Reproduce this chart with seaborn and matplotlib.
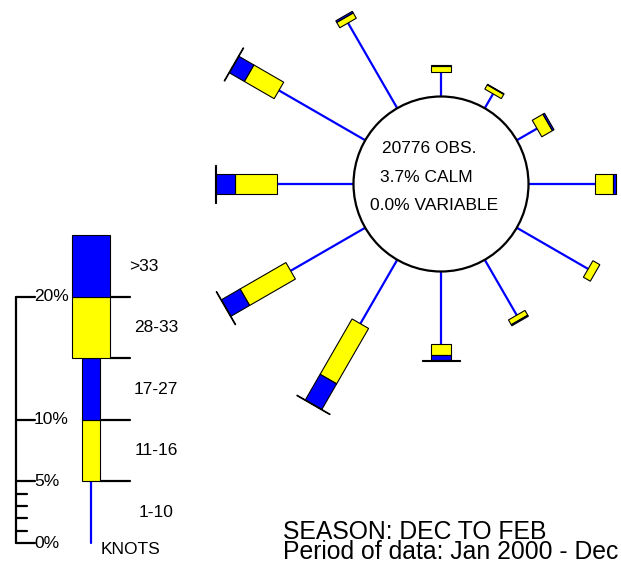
import numpy as np
import pandas as pd
import matplotlib
matplotlib.use("Agg")
import matplotlib.pyplot as plt
from matplotlib.patches import Polygon, Circle, Rectangle
import seaborn as sns

# ---- wind rose data (percent of observations) ----
directions = [0, 30, 60, 90, 120, 150, 180, 210, 240, 270, 300, 330]
pct_1_10 = [2.0, 1.35, 1.9, 5.4, 6.7, 5.2, 5.9, 6.0, 7.0, 6.2, 8.1, 8.0]
pct_11_16 = [0.5, 0.4, 1.0, 1.5, 0.65, 0.45, 0.9, 5.2, 4.3, 3.4, 2.8, 0.5]
pct_17_27 = [0.1, 0.05, 0.15, 0.25, 0.0, 0.1, 0.4, 2.4, 1.75, 1.6, 1.4, 0.15]
pct_28_33 = [0.0, 0.0, 0.0, 0.0, 0.0, 0.0, 0.05, 0.05, 0.05, 0.05, 0.05, 0.0]
pct_gt33 = [0.0] * 12

speed_labels = ["1-10", "11-16", "17-27", "28-33", ">33"]
legend_step = 5.0                      # each legend segment spans 5 %
scale_ticks = [0, 5, 10, 20]
scale_minor = [1, 2, 3, 4]

n_obs = 20776
calm_pct = 3.7
variable_pct = 0.0
season_text = "SEASON: DEC TO FEB"
period_text = "Period of data: Jan 2000 - Dec"

# ---- layout (1 data unit = 1 %) ----
W_PX, H_PX = 621, 565
S = 12.3                      # pixels per percent
CX, CY = 441, 184             # rose centre in pixels
R = 87.5 / S                  # radius of the central circle
NARROW = 1.55
WIDE = 3.1
BLUE = "#0000ff"
YELLOW = "#ffff00"


def px(x):
    return (x - CX) / S


def py(y):
    return (CY - y) / S


sns.set_theme(style="white")
plt.rcParams["font.family"] = ["Liberation Sans", "DejaVu Sans"]
plt.rcParams["text.color"] = "black"

fig = plt.figure(figsize=(W_PX / 100, H_PX / 100), dpi=100)
ax = fig.add_axes([0, 0, 1, 1])
ax.set_xlim(px(0), px(W_PX))
ax.set_ylim(py(H_PX), py(0))
ax.set_axis_off()


def bar(theta_deg, r0, r1, width, color):
    t = np.deg2rad(theta_deg)
    u = np.array([np.sin(t), np.cos(t)])
    p = np.array([np.cos(t), -np.sin(t)])
    pts = [r0 * u + width / 2 * p, r1 * u + width / 2 * p,
           r1 * u - width / 2 * p, r0 * u - width / 2 * p]
    ax.add_patch(Polygon(pts, closed=True, facecolor=color,
                         edgecolor="black", lw=0.8, zorder=3))


# spokes for the 1-10 knot class
rows = []
for d, v in zip(directions, pct_1_10):
    t = np.deg2rad(d)
    for r in (R, R + v):
        rows.append({"dir": d, "x": r * np.sin(t), "y": r * np.cos(t)})
spokes = pd.DataFrame(rows)
sns.lineplot(data=spokes, x="x", y="y", units="dir", estimator=None,
             sort=False, color=BLUE, lw=1.6, ax=ax, legend=False, zorder=2)

# stacked bars for the higher speed classes
for i, d in enumerate(directions):
    r = R + pct_1_10[i]
    segs = [(pct_11_16[i], NARROW, YELLOW), (pct_17_27[i], NARROW, BLUE),
            (pct_28_33[i], WIDE, YELLOW), (pct_gt33[i], WIDE, BLUE)]
    for val, w, col in segs:
        if val > 0:
            bar(d, r, r + val, w, col)
            r += val

ax.add_patch(Circle((0, 0), R, facecolor="white", edgecolor="black",
                    lw=1.6, zorder=4))

info = [f"{n_obs} OBS.", f"{calm_pct:.1f}% CALM", f"{variable_pct:.1f}% VARIABLE"]
info_pos = [(429, 149), (426, 178), (434, 206)]
for txt, (x, y) in zip(info, info_pos):
    ax.text(px(x), py(y), txt, ha="center", va="center", fontsize=12.5,
            color="black", zorder=5)

# ---- legend scale ----
y0 = py(543)
axis_x = px(16.5)
ax.plot([axis_x, axis_x], [y0, y0 + max(scale_ticks)], color="black", lw=1.6)
for t in scale_ticks:
    ax.plot([axis_x, px(35)], [y0 + t, y0 + t], color="black", lw=1.6)
    ax.text(px(34), y0 + t, f"{t}%", ha="left", va="center", fontsize=12.5)
for t in scale_minor:
    ax.plot([axis_x, px(27)], [y0 + t, y0 + t], color="black", lw=1.6)

lx = px(91)
ax.plot([lx, lx], [y0, y0 + legend_step], color=BLUE, lw=1.6)
leg_specs = [(NARROW * 18 / 19, YELLOW), (NARROW * 18 / 19, BLUE),
             (WIDE * 37 / 38, YELLOW), (WIDE * 37 / 38, BLUE)]
for k, (w, col) in enumerate(leg_specs, start=1):
    ax.add_patch(Rectangle((lx - w / 2, y0 + k * legend_step), w, legend_step,
                           facecolor=col, edgecolor="black", lw=0.8, zorder=3))
    # separator line at the bottom of each bar segment
    ax.plot([lx + w / 2, px(130)], [y0 + k * legend_step] * 2,
            color="black", lw=1.6, zorder=2)

label_x = [156, 156, 156, 156, 144]
for k, (lab, xl) in enumerate(zip(speed_labels, label_x)):
    ax.text(px(xl), y0 + (k + 0.5) * legend_step, lab, ha="center",
            va="center", fontsize=12.5)
ax.text(px(131), py(550), "KNOTS", ha="center", va="center", fontsize=12.5)

ax.text(px(283), py(539), season_text, ha="left", va="baseline", fontsize=17.8)
ax.text(px(283), py(559), period_text, ha="left", va="baseline", fontsize=17.8)

fig.savefig("out.png", dpi=100)
